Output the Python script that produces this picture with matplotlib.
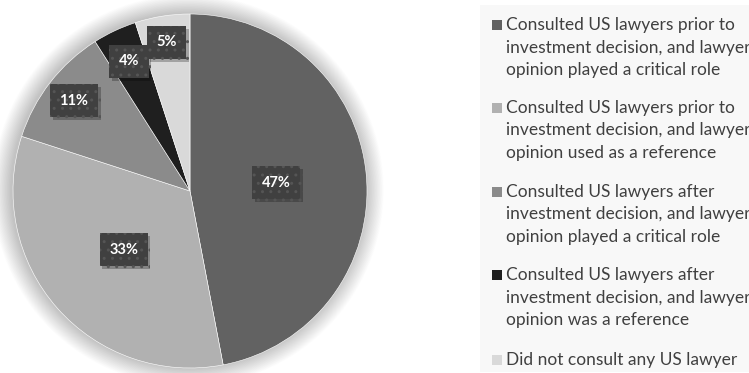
import matplotlib.pyplot as plt
import numpy as np
from matplotlib.patches import Circle, Rectangle
import matplotlib.patheffects as pe

plt.rcParams['font.family'] = ['Lato', 'DejaVu Sans']

# dane
shares = [47, 33, 11, 4, 5]
labels = [
    "Consulted US lawyers prior to\ninvestment decision, and lawyer\nopinion played a critical role",
    "Consulted US lawyers prior to\ninvestment decision, and lawyer\nopinion used as a reference",
    "Consulted US lawyers after\ninvestment decision, and lawyer\nopinion played a critical role",
    "Consulted US lawyers after\ninvestment decision, and lawyer\nopinion was a reference",
    "Did not consult any US lawyer",
]
colors = ['#626262', '#b1b1b1', '#8b8b8b', '#1f1f1f', '#d9d9d9']
label_dist = [0.49, 0.50, 0.83, 0.81, 0.85]

W, H = 749, 373
fig = plt.figure(figsize=(W / 100, H / 100), dpi=100)
fig.patch.set_facecolor('white')

# tlo legendy
fig.patches.append(Rectangle((480 / W, 1 / H), (W - 480) / W, 367 / H,
                             transform=fig.transFigure, fc='#f8f8f8', ec='none', zorder=0))

# os kolowa: srodek (190, 182) px, promien 177 px
R = 177
cx, cy = 190, 182
s = 1.2
ax = fig.add_axes([(cx - R * s) / W, (cy - R * s) / H, 2 * R * s / W, 2 * R * s / H])

wedges, _ = ax.pie(shares, colors=colors, startangle=90, counterclock=False,
                   radius=1.0, wedgeprops=dict(edgecolor='white', linewidth=0.4))
ax.set_xlim(-s, s)
ax.set_ylim(-s, s)
ax.axis('off')

# miekki cien wokol kola
n = 30
for k in range(n):
    rr = 1.0 + 0.0035 * (n - k)
    ax.add_patch(Circle((-0.01, 0.004), rr, fc='black', ec='none', alpha=0.006, zorder=0))

for w, v, d in zip(wedges, shares, label_dist):
    ang = np.radians((w.theta1 + w.theta2) / 2)
    x, y = d * np.cos(ang), d * np.sin(ang)
    t = ax.text(x, y, f"{v}%", ha='center', va='center', fontsize=10.5, fontweight='bold',
                color='white', zorder=5,
                bbox=dict(boxstyle='square,pad=0.65', fc='#404040', ec='#555555', lw=0, hatch='..'))
    t.get_bbox_patch().set_path_effects([
        pe.SimplePatchShadow(offset=(2, -2), shadow_rgbFace='black', alpha=0.25), pe.Normal()])

# legenda
tops = [17, 100, 184, 267, 352]
for w, lab, t in zip(wedges, labels, tops):
    fig.patches.append(Rectangle((492 / W, 1 - (t + 13) / H), 10 / W, 10 / H,
                                 transform=fig.transFigure, fc=w.get_facecolor(), ec='none'))
    fig.text(506 / W, 1 - t / H, lab, ha='left', va='top', fontsize=12.5,
             color='#404040', linespacing=1.5)

fig.savefig('out.png', dpi=100)
